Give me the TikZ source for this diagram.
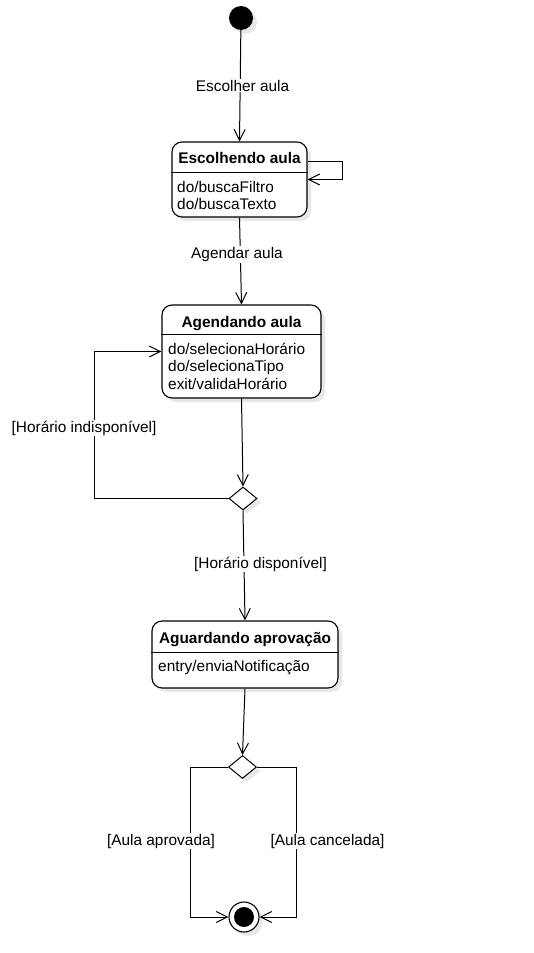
\documentclass[tikz,border=0pt]{standalone}
\usepackage{fontspec}
\setmainfont{Liberation Sans}
\usetikzlibrary{arrows.meta,shapes.geometric,shadows}

\begin{document}
\begin{tikzpicture}[x=1pt,y=-1pt,
  every node/.style={font=\fontsize{15.4}{17.5}\selectfont, inner sep=0pt},
  shad/.style={drop shadow={shadow xshift=4pt,shadow yshift=-4pt,fill=black!9,opacity=1}},
  statebox/.style={draw, line width=1.1pt, rounded corners=10pt, fill=white, shad},
  titletext/.style={font=\fontsize{15.4}{17.5}\selectfont\bfseries, anchor=base},
  bodytext/.style={anchor=base west},
  sep/.style={line width=1pt},
  choice/.style={diamond, draw, line width=1pt, fill=white, minimum width=28pt, minimum height=23pt, shad},
  conn/.style={draw, line width=1pt, -{Straight Barb[length=11pt,width=11pt]}},
  lbl/.style={fill=white, inner sep=1pt, anchor=base}]
\useasboundingbox (0,0) rectangle (534,953);

% initial state
\node[circle, fill=black, minimum size=24pt, shad] (init) at (241,18) {};

% Escolhendo aula
\node[statebox, minimum width=135pt, minimum height=75pt] (esc) at (239.5,179.5) {};
\node[titletext] (escT) at (239.5,163) {Escolhendo aula};
\draw[sep] (esc.west |- 0,172) -- (esc.east |- 0,172);
\node[bodytext] (escB1) at (177,192) {do/buscaFiltro};
\node[bodytext] (escB2) at (177,209) {do/buscaTexto};

% Agendando aula
\node[statebox, minimum width=159pt, minimum height=93pt] (ag) at (241.5,351.5) {};
\node[titletext] (agT) at (241.5,327) {Agendando aula};
\draw[sep] (ag.west |- 0,334) -- (ag.east |- 0,334);
\node[bodytext] (agB1) at (168,354) {do/selecionaHorário};
\node[bodytext] (agB2) at (168,371.5) {do/selecionaTipo};
\node[bodytext] (agB3) at (168,389) {exit/validaHorário};

% decision 1
\node[choice] (d1) at (243,498.5) {};

% Aguardando aprovação
\node[statebox, minimum width=186pt, minimum height=67pt] (agu) at (245,654.5) {};
\node[titletext] (aguT) at (245,643) {Aguardando aprovação};
\draw[sep] (agu.west |- 0,652) -- (agu.east |- 0,652);
\node[bodytext] (aguB1) at (158,671) {entry/enviaNotificação};

% decision 2
\node[choice] (d2) at (242.5,767) {};

% final state
\node[circle, draw, line width=1.1pt, fill=white, minimum size=30pt, shad] (fin) at (244,917) {};
\node[circle, fill=black, minimum size=20pt] (finIn) at (fin) {};

% helper corners
\coordinate (loopL) at (94,351.5);
\coordinate (aL) at (190,917);
\coordinate (aR) at (296,917);

% connectors
\draw[conn] (init) -- (esc.north);
\draw[conn] ([yshift=18.5pt]esc.east) -- ++(35,0) |- (esc.east);
\draw[conn] (esc.south) -- (ag.north);
\draw[conn] (ag.south) -- (d1.north);
\draw[conn] (d1.west) -| (loopL) -- (ag.west);
\draw[conn] (d1.south) -- (agu.north);
\draw[conn] (agu.south) -- (d2.north);
\draw[conn] (d2.west) -| (aL) -- (fin.west);
\draw[conn] (d2.east) -| (aR) -- (fin.east);

% labels
\node[lbl] (l1) at (242.5,91) {Escolher aula};
\node[lbl] (l2) at (237,258.5) {Agendar aula};
\node[lbl] (l3) at (84,432) {[Horário indisponível]};
\node[lbl] (l4) at (260.5,568) {[Horário disponível]};
\node[lbl] (l5) at (161,845) {[Aula aprovada]};
\node[lbl] (l6) at (327.5,845) {[Aula cancelada]};
\end{tikzpicture}
\end{document}
